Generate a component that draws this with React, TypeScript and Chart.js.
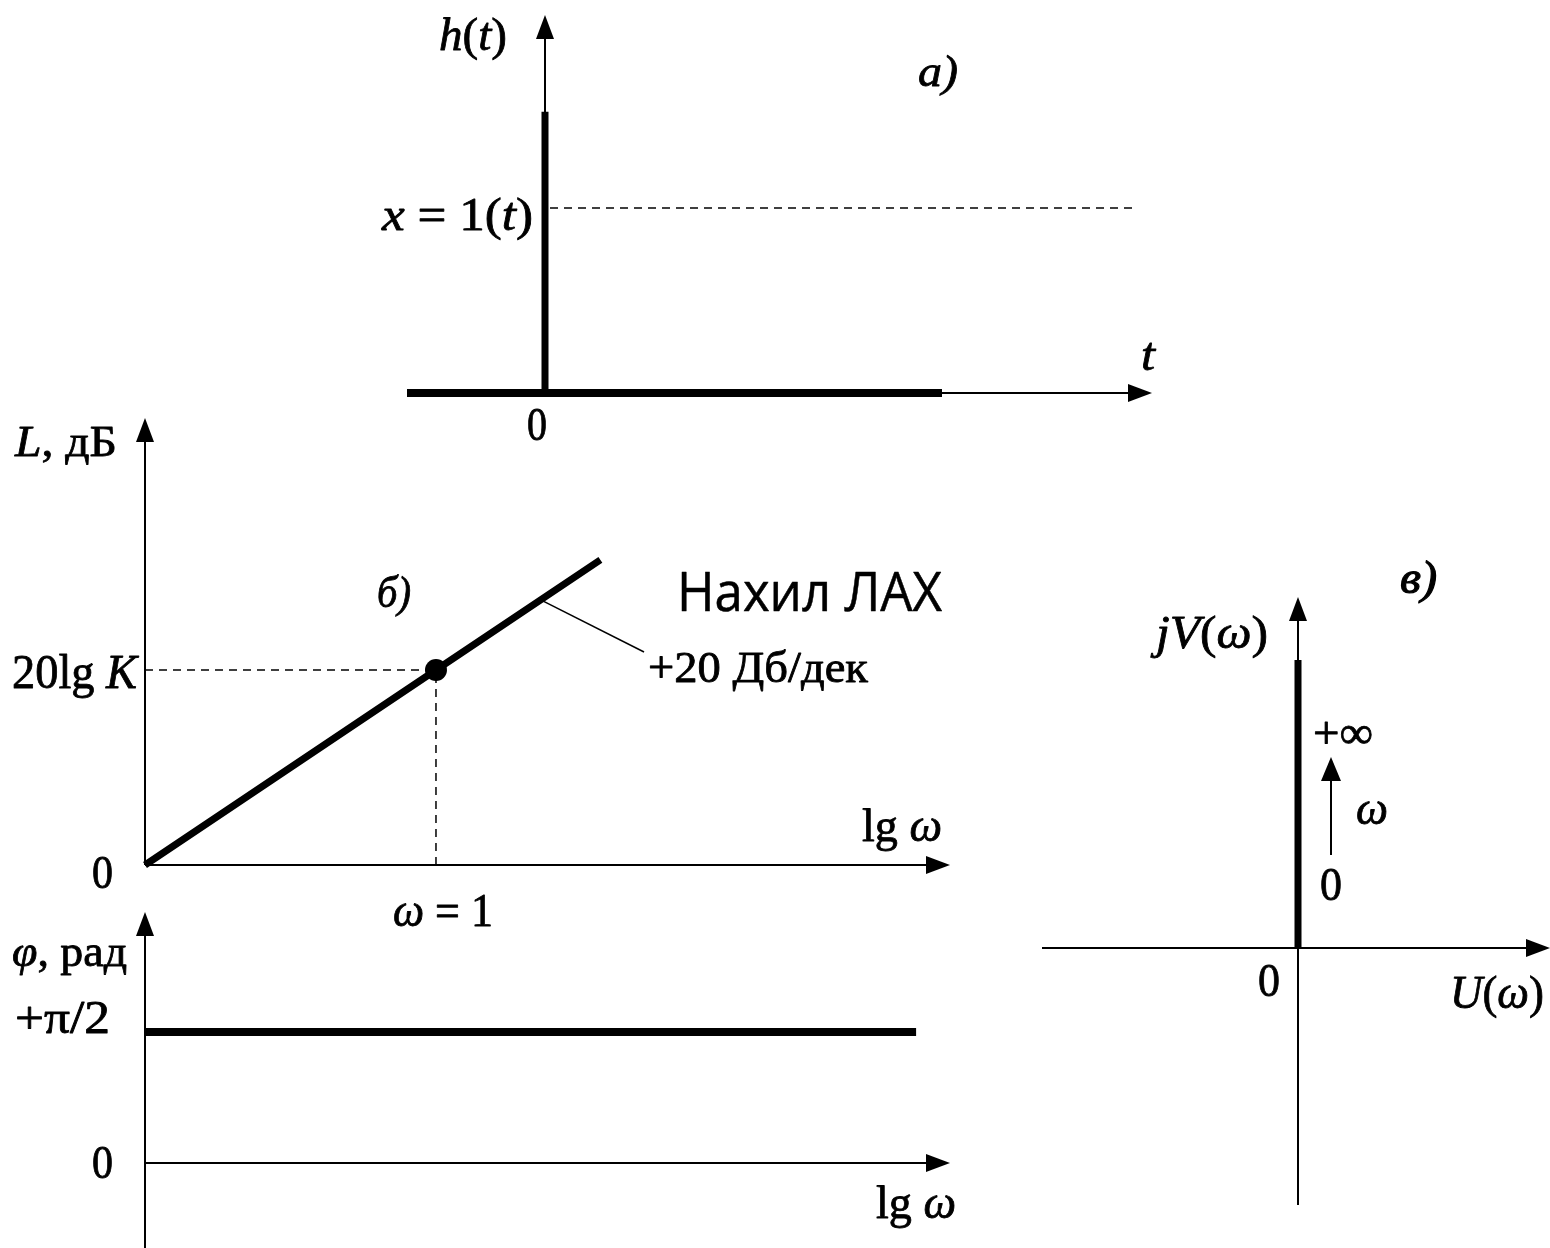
import React, { useEffect, useRef } from "react";
import { Chart, registerables } from "chart.js";

Chart.register(...registerables);

const W = 1550;
const H = 1248;
const SERIF = '"Liberation Serif", "DejaVu Serif", serif';
const SANS = '"Open Sans", "Noto Sans", sans-serif';

// а) перехідна функція h(t) та вхідний сигнал x = 1(t)
const hBaseT = [-1.38, 3.97];
const hBase = [0, 0];
const impulseT = [0, 0];
const impulseH = [0, 1.52];
const stepT = [0.05, 5.87];
const stepX = [1, 1];

// б) ЛАХ: L = 20lg K + 20 lg ω
const lgOmega = [-2, 0, 1.13];
const lDb = [0, 40, 62.6];
const kDb = 40; // 20lg K
const leaderLgW = [0.72, 1.43];
const leaderL = [54.4, 43.7];

// ЛФХ: φ = +π/2
const phaseLgW = [-2, 3.3];
const phaseRad = [1.5708, 1.5708];

// в) АФХ на комплексній площині
const afcU = [0, 0];
const afcV = [0, 2.88];
const omegaArrowU = [0.33, 0.33];
const omegaArrowV = [0.93, 1.91];

type Seg = [string, boolean];
type Label = { segs: Seg[]; left: number; base: number; width: number; size: number; font?: string; stroke?: number };
type Axis = { orient: "h" | "v"; at: number; from: number; to: number; head: boolean; width?: number };
type ArrowSpec = { xs: number[]; ys: number[]; width: number; len: number; half: number };

const pts = (xs: number[], ys: number[]) => xs.map((x, i) => ({ x, y: ys[i] }));

function drawArrow(ctx: CanvasRenderingContext2D, x1: number, y1: number, x2: number, y2: number, lw: number, head: boolean, len = 24, half = 9) {
  const dx = x2 - x1;
  const dy = y2 - y1;
  const d = Math.hypot(dx, dy) || 1;
  const ux = dx / d;
  const uy = dy / d;
  const ex = head ? x2 - ux * (len - 2) : x2;
  const ey = head ? y2 - uy * (len - 2) : y2;
  ctx.lineWidth = lw;
  ctx.lineCap = "butt";
  ctx.beginPath();
  ctx.moveTo(x1, y1);
  ctx.lineTo(ex, ey);
  ctx.stroke();
  if (head) {
    const bx = x2 - ux * len;
    const by = y2 - uy * len;
    ctx.beginPath();
    ctx.moveTo(x2, y2);
    ctx.lineTo(bx - uy * half, by + ux * half);
    ctx.lineTo(bx + uy * half, by - ux * half);
    ctx.closePath();
    ctx.fill();
  }
}

function drawLabel(ctx: CanvasRenderingContext2D, l: Label) {
  const fam = l.font || SERIF;
  let total = 0;
  const parts = l.segs.map(([t, it]) => {
    const font = `${it ? "italic " : ""}${l.size}px ${fam}`;
    ctx.font = font;
    const w = ctx.measureText(t).width;
    total += w;
    return { t, font, w };
  });
  const sx = l.width ? l.width / total : 1;
  const stroke = l.stroke === undefined ? 0.8 : l.stroke;
  ctx.save();
  ctx.translate(l.left, l.base);
  ctx.scale(sx, 1);
  ctx.textAlign = "left";
  ctx.textBaseline = "alphabetic";
  ctx.lineWidth = stroke;
  ctx.lineJoin = "round";
  let x = 0;
  for (const p of parts) {
    ctx.font = p.font;
    ctx.fillText(p.t, x, 0);
    if (stroke > 0) ctx.strokeText(p.t, x, 0);
    x += p.w;
  }
  ctx.restore();
}

const diagramPlugin = {
  id: "diagram",
  beforeDatasetsDraw(chart: any, _args: any, opts: any) {
    const ctx: CanvasRenderingContext2D = chart.ctx;
    const xs = chart.scales.x;
    const ys = chart.scales.y;
    ctx.save();
    ctx.strokeStyle = "#000";
    ctx.fillStyle = "#000";
    for (const a of (opts.axes || []) as Axis[]) {
      if (a.orient === "h") {
        const y = ys.getPixelForValue(a.at);
        drawArrow(ctx, xs.getPixelForValue(a.from), y, xs.getPixelForValue(a.to), y, a.width || 2, a.head);
      } else {
        const x = xs.getPixelForValue(a.at);
        drawArrow(ctx, x, ys.getPixelForValue(a.from), x, ys.getPixelForValue(a.to), a.width || 2, a.head);
      }
    }
    ctx.restore();
  },
  afterDatasetsDraw(chart: any, _args: any, opts: any) {
    const ctx: CanvasRenderingContext2D = chart.ctx;
    const xs = chart.scales.x;
    const ys = chart.scales.y;
    ctx.save();
    ctx.strokeStyle = "#000";
    ctx.fillStyle = "#000";
    for (const a of (opts.arrows || []) as ArrowSpec[]) {
      const n = a.xs.length - 1;
      drawArrow(
        ctx,
        xs.getPixelForValue(a.xs[0]),
        ys.getPixelForValue(a.ys[0]),
        xs.getPixelForValue(a.xs[n]),
        ys.getPixelForValue(a.ys[n]),
        a.width,
        true,
        a.len,
        a.half
      );
    }
    for (const l of (opts.labels || []) as Label[]) drawLabel(ctx, l);
    ctx.restore();
  },
};

const line = (data: { x: number; y: number }[], width: number, extra: any = {}) => ({
  data,
  showLine: true,
  borderColor: "#000",
  backgroundColor: "#000",
  borderWidth: width,
  borderCapStyle: "butt",
  pointRadius: 0,
  clip: false,
  ...extra,
});

type Panel = {
  box: [number, number, number, number];
  x: [number, number];
  y: [number, number];
  datasets: any[];
  axes: Axis[];
  arrows?: ArrowSpec[];
  labels: Label[];
};

const N = false;
const I = true;

const panels: Panel[] = [
  {
    box: [407, 15, 1152, 411],
    x: [-1.38, 6.07],
    y: [-0.0973, 2.043],
    datasets: [
      line(pts(hBaseT, hBase), 8),
      line(pts(impulseT, impulseH), 7),
      line(pts(stepT, stepX), 1.5, { borderDash: [8, 6] }),
    ],
    axes: [
      { orient: "h", at: 0, from: -1.38, to: 6.07, head: true },
      { orient: "v", at: 0, from: 0, to: 2.043, head: true },
    ],
    labels: [
      { segs: [["h", I], ["(", N], ["t", I], [")", N]], left: 439, base: 50, width: 68, size: 46 },
      { segs: [["а)", I]], left: 918, base: 86, width: 40, size: 44 },
      { segs: [["x", I], [" = 1(", N], ["t", I], [")", N]], left: 382, base: 230, width: 151, size: 46 },
      { segs: [["t", I]], left: 1141, base: 370, width: 14, size: 46 },
      { segs: [["0", N]], left: 527, base: 440, width: 20, size: 46 },
    ],
  },
  {
    box: [145, 418, 950, 875],
    x: [-2, 3.533],
    y: [-2.05, 91.69],
    datasets: [
      line(pts(lgOmega, lDb), 7, { pointRadius: [0, 11, 0], pointBackgroundColor: "#000", pointBorderWidth: 0 }),
      line(pts([lgOmega[0], 0], [kDb, kDb]), 1.5, { borderDash: [8, 6] }),
      line(pts([0, 0], [0, kDb]), 1.5, { borderDash: [8, 6] }),
      line(pts(leaderLgW, leaderL), 1.5),
    ],
    axes: [
      { orient: "h", at: 0, from: -2, to: 3.533, head: true },
      { orient: "v", at: -2, from: 0, to: 91.69, head: true },
    ],
    labels: [
      { segs: [["L", I], [", дБ", N]], left: 15, base: 456, width: 102, size: 44 },
      { segs: [["20lg ", N], ["K", I]], left: 12, base: 688, width: 125, size: 48 },
      { segs: [["0", N]], left: 92, base: 888, width: 21, size: 46 },
      { segs: [["б)", I]], left: 377, base: 607, width: 34, size: 44 },
      { segs: [["lg ", N], ["ω", I]], left: 862, base: 841, width: 80, size: 46 },
      { segs: [["ω", I], [" = 1", N]], left: 393, base: 926, width: 100, size: 46 },
      { segs: [["+20 Дб/дек", N]], left: 648, base: 682, width: 220, size: 44 },
      { segs: [["Нахил ЛАХ", N]], left: 677, base: 611, width: 265, size: 54, font: SANS, stroke: 0.5 },
    ],
  },
  {
    box: [145, 912, 950, 1248],
    x: [-2, 3.533],
    y: [-1.0192, 3.0096],
    datasets: [line(pts(phaseLgW, phaseRad), 8)],
    axes: [
      { orient: "h", at: 0, from: -2, to: 3.533, head: true },
      { orient: "v", at: -2, from: -1.0192, to: 3.0096, head: true },
    ],
    labels: [
      { segs: [["φ", I], [", рад", N]], left: 12, base: 966, width: 115, size: 44 },
      { segs: [["+π/2", N]], left: 15, base: 1033, width: 95, size: 46 },
      { segs: [["0", N]], left: 92, base: 1178, width: 21, size: 46 },
      { segs: [["lg ", N], ["ω", I]], left: 876, base: 1218, width: 80, size: 46 },
    ],
  },
  {
    box: [1042, 597, 1550, 1205],
    x: [-2.56, 2.52],
    y: [-2.57, 3.51],
    datasets: [line(pts(afcU, afcV), 7)],
    axes: [
      { orient: "h", at: 0, from: -2.56, to: 2.52, head: true },
      { orient: "v", at: 0, from: -2.57, to: 3.51, head: true },
    ],
    arrows: [{ xs: omegaArrowU, ys: omegaArrowV, width: 2, len: 24, half: 10 }],
    labels: [
      { segs: [["в)", I]], left: 1400, base: 593, width: 37, size: 46, stroke: 1.2 },
      { segs: [["jV", I], ["(", N], ["ω", I], [")", N]], left: 1156, base: 648, width: 112, size: 46 },
      { segs: [["+∞", N]], left: 1313, base: 748, width: 60, size: 46 },
      { segs: [["ω", I]], left: 1356, base: 824, width: 32, size: 46 },
      { segs: [["0", N]], left: 1320, base: 900, width: 22, size: 46 },
      { segs: [["0", N]], left: 1258, base: 996, width: 22, size: 46 },
      { segs: [["U", I], ["(", N], ["ω", I], [")", N]], left: 1450, base: 1008, width: 94, size: 46 },
    ],
  },
];

function makeConfig(p: Panel): any {
  const [l, t, r, b] = p.box;
  return {
    type: "scatter",
    data: { datasets: p.datasets },
    options: {
      responsive: false,
      animation: false,
      devicePixelRatio: 1,
      events: [],
      layout: { padding: { left: l, top: t, right: W - r, bottom: H - b } },
      scales: {
        x: { type: "linear", display: false, min: p.x[0], max: p.x[1] },
        y: { type: "linear", display: false, min: p.y[0], max: p.y[1] },
      },
      plugins: {
        legend: { display: false },
        tooltip: { enabled: false },
        diagram: { axes: p.axes, arrows: p.arrows || [], labels: p.labels },
      },
    },
    plugins: [diagramPlugin],
  };
}

function PanelCanvas({ panel }: { panel: Panel }) {
  const ref = useRef<HTMLCanvasElement | null>(null);
  useEffect(() => {
    if (!ref.current) return;
    const chart = new Chart(ref.current, makeConfig(panel));
    return () => chart.destroy();
  }, [panel]);
  return (
    <canvas
      ref={ref}
      width={W}
      height={H}
      style={{ position: "absolute", left: 0, top: 0, width: W, height: H }}
    />
  );
}

export default function App() {
  return (
    <div style={{ position: "absolute", left: 0, top: 0, width: W, height: H, background: "#fff", overflow: "hidden" }}>
      {panels.map((p, i) => (
        <PanelCanvas key={i} panel={p} />
      ))}
    </div>
  );
}
